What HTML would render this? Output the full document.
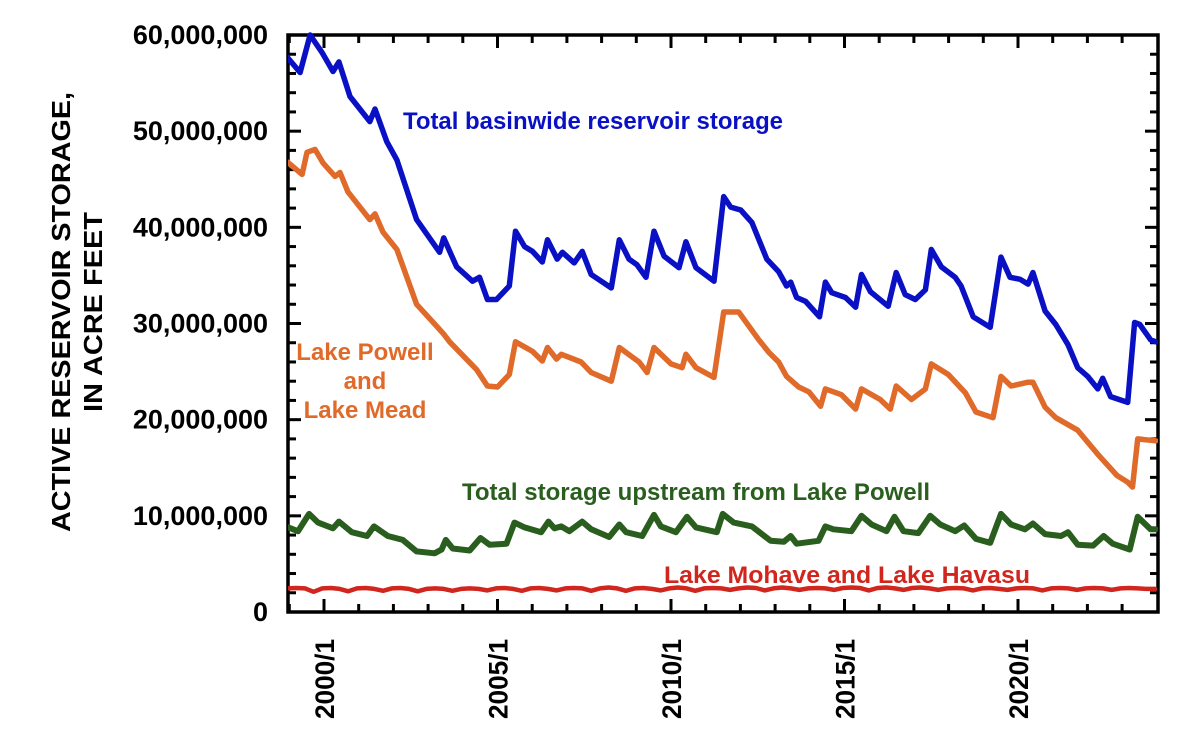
<!DOCTYPE html>
<html><head><meta charset="utf-8"><style>
html,body{margin:0;padding:0;background:#fff;}
svg{display:block;font-family:"Liberation Sans",Arial,sans-serif;font-weight:bold;}
</style></head><body>
<svg id="chart" width="1200" height="745" viewBox="0 0 1200 745">
<g id="grid-layer"></g>
<g id="series-layer"></g>
<g id="label-layer">
<text x="593" y="129" font-size="24" fill="#0a10c4" text-anchor="middle" textLength="380" lengthAdjust="spacingAndGlyphs">Total basinwide reservoir storage</text>
<text x="365" y="360" font-size="24" fill="#e06a2a" text-anchor="middle">Lake Powell</text>
<text x="365" y="389" font-size="24" fill="#e06a2a" text-anchor="middle">and</text>
<text x="365" y="418" font-size="24" fill="#e06a2a" text-anchor="middle">Lake Mead</text>
<text x="696" y="500" font-size="24" fill="#2a5e1e" text-anchor="middle" textLength="468" lengthAdjust="spacingAndGlyphs">Total storage upstream from Lake Powell</text>
<text x="847" y="583" font-size="24" fill="#d0261e" text-anchor="middle" textLength="366" lengthAdjust="spacingAndGlyphs">Lake Mohave and Lake Havasu</text>
<text transform="translate(70,312) rotate(-90)" font-size="26" text-anchor="middle" textLength="440" lengthAdjust="spacingAndGlyphs">ACTIVE RESERVOIR STORAGE,</text>
<text transform="translate(102,312) rotate(-90)" font-size="26" text-anchor="middle" textLength="200" lengthAdjust="spacingAndGlyphs">IN ACRE FEET</text>
</g>
</svg>
<script>
const yTickValues = [0,10,20,30,40,50,60];
const yTickLabels = ["0","10,000,000","20,000,000","30,000,000","40,000,000","50,000,000","60,000,000"];
const xTickYears = [2000,2005,2010,2015,2020];
const xTickLabels = ["2000/1","2005/1","2010/1","2015/1","2020/1"];

const blueYears = [1998.94,1999.31,1999.60,1999.94,2000.26,2000.43,2000.75,2001.32,2001.47,2001.81,2002.10,2002.67,2003.33,2003.45,2003.82,2004.28,2004.48,2004.71,2004.97,2005.34,2005.52,2005.78,2006.01,2006.29,2006.44,2006.72,2006.87,2007.21,2007.44,2007.70,2008.28,2008.51,2008.79,2009.02,2009.28,2009.51,2009.80,2010.23,2010.43,2010.72,2011.24,2011.52,2011.72,2012.01,2012.33,2012.76,2013.10,2013.33,2013.45,2013.62,2013.88,2014.28,2014.45,2014.63,2015.03,2015.32,2015.49,2015.75,2016.26,2016.49,2016.75,2017.04,2017.33,2017.50,2017.79,2018.19,2018.36,2018.71,2019.20,2019.51,2019.77,2020.06,2020.29,2020.43,2020.78,2021.09,2021.44,2021.72,2022.01,2022.30,2022.44,2022.67,2023.16,2023.36,2023.51,2023.82,2023.97];
const blueValues = [57.7,56.1,60,58.2,56.2,57.2,53.6,51,52.3,48.9,47,40.8,37.4,38.9,35.9,34.4,34.8,32.5,32.5,33.9,39.6,38,37.5,36.4,38.7,36.7,37.4,36.3,37.5,35.1,33.7,38.7,36.7,36.1,34.8,39.6,37,35.8,38.5,35.8,34.4,43.2,42.1,41.8,40.5,36.7,35.4,33.9,34.3,32.7,32.3,30.7,34.3,33.2,32.7,31.7,35.1,33.3,31.8,35.3,33,32.5,33.5,37.7,35.9,34.8,33.9,30.7,29.6,36.9,34.8,34.6,34.1,35.3,31.3,29.9,27.8,25.4,24.5,23.2,24.3,22.4,21.8,30.1,29.9,28.3,28.1];

const orangeYears = [1998.94,1999.37,1999.51,1999.74,1999.97,2000.32,2000.46,2000.69,2001.32,2001.47,2001.70,2002.10,2002.67,2003.25,2003.45,2003.62,2004.40,2004.71,2005.00,2005.34,2005.52,2006.01,2006.29,2006.44,2006.70,2006.84,2007.41,2007.70,2008.28,2008.51,2009.08,2009.31,2009.51,2010.00,2010.32,2010.43,2010.72,2011.24,2011.52,2011.95,2012.53,2012.82,2013.10,2013.33,2013.68,2013.97,2014.31,2014.45,2014.91,2015.32,2015.49,2016.03,2016.32,2016.49,2016.93,2017.33,2017.50,2017.99,2018.48,2018.79,2019.28,2019.51,2019.80,2020.29,2020.43,2020.78,2021.09,2021.72,2022.30,2022.85,2023.16,2023.30,2023.45,2023.97];
const orangeValues = [46.8,45.5,47.8,48.1,46.7,45.3,45.7,43.7,40.8,41.4,39.5,37.7,32,29.7,28.9,28.1,25.2,23.5,23.4,24.7,28.1,27.1,26.1,27.5,26.3,26.8,26,24.9,24,27.5,26,24.9,27.5,25.8,25.4,26.8,25.4,24.4,31.2,31.2,28.3,27,26,24.5,23.4,22.9,21.4,23.2,22.6,21.1,23.2,22.1,21.1,23.5,22.1,23.2,25.8,24.7,22.8,20.8,20.2,24.5,23.5,23.9,23.9,21.3,20.2,18.9,16.4,14.2,13.5,13.0,18,17.8];

const greenYears = [1998.97,1999.25,1999.57,1999.83,2000.26,2000.43,2000.80,2001.24,2001.44,2001.84,2002.27,2002.67,2003.19,2003.39,2003.51,2003.71,2004.20,2004.51,2004.77,2005.26,2005.49,2005.78,2006.26,2006.47,2006.64,2006.84,2007.07,2007.44,2007.70,2008.22,2008.51,2008.71,2009.17,2009.51,2009.71,2010.14,2010.46,2010.72,2011.32,2011.49,2011.81,2012.33,2012.87,2013.25,2013.45,2013.62,2014.25,2014.45,2014.68,2015.20,2015.49,2015.78,2016.21,2016.44,2016.70,2017.13,2017.47,2017.76,2018.19,2018.45,2018.79,2019.20,2019.51,2019.80,2020.20,2020.43,2020.78,2021.24,2021.44,2021.72,2022.16,2022.47,2022.73,2023.22,2023.45,2023.82,2023.97];
const greenValues = [8.8,8.4,10.2,9.3,8.7,9.4,8.3,7.9,8.9,7.9,7.5,6.3,6.1,6.5,7.5,6.6,6.4,7.7,7,7.1,9.3,8.8,8.3,9.4,8.7,8.9,8.4,9.4,8.6,7.8,9.1,8.3,7.9,10.1,8.9,8.3,9.9,8.8,8.3,10.2,9.3,8.9,7.4,7.3,7.9,7.1,7.4,8.9,8.6,8.4,10,9.1,8.4,9.9,8.4,8.2,10,9.1,8.4,9,7.6,7.2,10.2,9.1,8.6,9.2,8.1,7.9,8.3,7,6.9,7.9,7.1,6.5,9.9,8.6,8.6];

const redYears = [];
for (let k = 0; k <= 100; k++) redYears.push(1998.95 + k * 0.25);
const redValues = [2.45,2.5,2.45,2.1,2.45,2.5,2.4,2.15,2.45,2.5,2.4,2.2,2.45,2.5,2.4,2.15,2.4,2.45,2.4,2.2,2.4,2.45,2.4,2.25,2.45,2.5,2.4,2.2,2.45,2.5,2.4,2.25,2.45,2.5,2.45,2.2,2.45,2.55,2.45,2.2,2.45,2.5,2.4,2.25,2.45,2.55,2.45,2.2,2.45,2.5,2.45,2.3,2.45,2.55,2.5,2.25,2.45,2.55,2.45,2.3,2.45,2.5,2.45,2.3,2.5,2.55,2.5,2.25,2.5,2.55,2.45,2.3,2.5,2.55,2.45,2.3,2.45,2.5,2.45,2.25,2.45,2.5,2.4,2.3,2.45,2.5,2.45,2.25,2.45,2.5,2.45,2.3,2.45,2.5,2.45,2.3,2.45,2.5,2.45,2.4,2.4];

const PL = 288, PR = 1158, PT = 35, PB = 612;
function xScale(yr) { return 324 + (yr - 2000) * 34.7; }
function yScale(v) { return PB - v * (PB - PT) / 60; }

const NS = "http://www.w3.org/2000/svg";
const grid = document.getElementById('grid-layer');
const series = document.getElementById('series-layer');
function mk(tag, attrs, parent) {
  const e = document.createElementNS(NS, tag);
  for (const k in attrs) e.setAttribute(k, attrs[k]);
  parent.appendChild(e);
  return e;
}

for (let v = 0; v <= 60; v += 2) {
  const y = yScale(v);
  const len = (v % 10 === 0) ? 13 : 8;
  const t1 = mk('line', {x1: PL, x2: PL + len, y1: y, y2: y, stroke: '#000', 'stroke-width': 3}, grid);
  
  
  const t2 = mk('line', {x1: PR, x2: PR - len, y1: y, y2: y, stroke: '#000', 'stroke-width': 3}, grid);
  
  
}
yTickValues.forEach((v, i) => {
  const t = mk('text', {x: 268, y: yScale(v) + 9, 'font-size': 27, 'text-anchor': 'end', fill: '#000'}, grid);
  t.textContent = yTickLabels[i];
  
  
});
for (let yr = 1999; yr <= 2023; yr++) {
  const x = xScale(yr);
  const len = (yr % 5 === 0) ? 13 : 8;
  const b = mk('line', {x1: x, x2: x, y1: PB, y2: PB - len, stroke: '#000', 'stroke-width': 3}, grid);
  
  
  const tp = mk('line', {x1: x, x2: x, y1: PT, y2: PT + len, stroke: '#000', 'stroke-width': 3}, grid);
  
  
}
xTickYears.forEach((yr, i) => {
  const x = xScale(yr) + 10;
  const t = mk('text', {transform: `translate(${x},719) rotate(-90)`, 'font-size': 27, 'text-anchor': 'start', fill: '#000', textLength: 80, lengthAdjust: 'spacingAndGlyphs'}, grid);
  t.textContent = xTickLabels[i];
  
  
});

const clip = mk('clipPath', {id: 'plotclip'}, mk('defs', {}, series));
mk('rect', {x: PL, y: PT - 10, width: PR - PL, height: PB - PT + 10}, clip);

function drawLine(xs, vs, color, w, name) {
  const d = xs.map((yr, i) => (i ? 'L' : 'M') + xScale(yr).toFixed(1) + ',' + yScale(vs[i]).toFixed(1)).join(' ');
  const p = mk('path', {d: d, fill: 'none', stroke: color, 'stroke-width': w, 'stroke-linejoin': 'round', 'stroke-linecap': 'round', 'clip-path': 'url(#plotclip)'}, series);
  
  
}
drawLine(redYears, redValues, '#d0261e', 4.5, 'series-mohave-havasu');
drawLine(greenYears, greenValues, '#2a5e1e', 6, 'series-upstream-powell');
drawLine(orangeYears, orangeValues, '#e06a2a', 5.5, 'series-powell-mead');
drawLine(blueYears, blueValues, '#0a10c4', 5.5, 'series-total-basinwide');

const frame = mk('rect', {x: PL, y: PT, width: PR - PL, height: PB - PT, fill: 'none', stroke: '#000', 'stroke-width': 3.5}, grid);


</script>
</body></html>
